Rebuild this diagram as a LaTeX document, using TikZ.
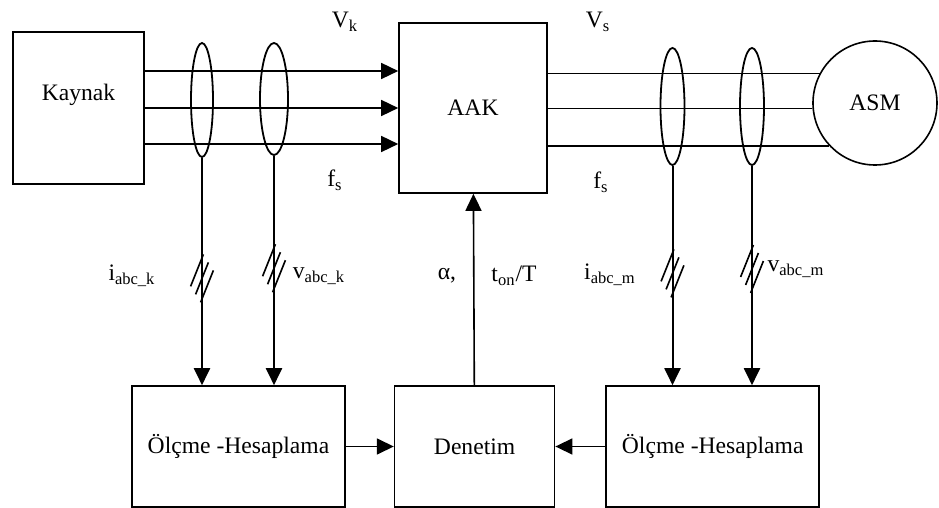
\documentclass[tikz,border=0pt]{standalone}
\usepackage{fontspec}
\setmainfont{Liberation Serif}
\usetikzlibrary{arrows.meta,positioning,calc,shapes.geometric}
\newcommand{\busmark}[1]{%
  \foreach \dx/\dy in {-2.5/4,0/0,2.5/-4}
    \draw[line width=0.8pt] ([shift={(\dx pt,\dy pt)}]#1) +(-3.2pt,-8pt) -- +(3.2pt,8pt);}

\begin{document}
\begin{tikzpicture}[x=0.5pt,y=-0.5pt,font=\fontsize{11.8}{14}\selectfont,
  box/.style={draw,line width=0.8pt,inner sep=0pt},
  ct/.style={draw,ellipse,line width=0.9pt,inner sep=0pt},
  arr/.style={-{Triangle[length=8.5pt,width=8pt]},line width=0.8pt},
  lbl/.style={inner sep=0pt}]
  \useasboundingbox (0,0) rectangle (939,508);
  \node[box,minimum width=65.5pt,minimum height=76pt,label={[yshift=6.5pt]center:Kaynak}] (kaynak) at (78.5,108) {};
  \node[box,minimum width=74pt,minimum height=85pt] (aak) at (473,108) {AAK};
  \node[box,circle,minimum size=62pt] (asm) at (875,103) {ASM};
  \node[box,minimum width=106.5pt,minimum height=60.5pt] (olc1) at (238.5,446.5) {Ölçme -Hesaplama};
  \node[box,minimum width=80pt,minimum height=60.5pt,right=24pt of olc1] (den) {Denetim};
  \node[box,minimum width=106.5pt,minimum height=60.5pt,right=25pt of den] (olc2) {Ölçme -Hesaplama};
  \foreach \dy in {18.5,0,-18}
    \draw[arr,line width=0.75pt] ([yshift=\dy pt]kaynak.east) -- ([yshift=\dy pt]aak.west);
  \foreach \a in {152,185,223}
    \draw[line width=0.75pt] (aak.east |- asm.\a) -- (asm.\a);
  \node[ct,minimum width=11pt,minimum height=57pt] (ct1) at (202,100) {};
  \node[ct,minimum width=14pt,minimum height=56pt] (ct2) at (274,99) {};
  \node[ct,minimum width=12pt,minimum height=58.5pt] (ct3) at (672.5,106.5) {};
  \node[ct,minimum width=12pt,minimum height=58.5pt] (ct4) at (752,106.5) {};
  \foreach \c/\b/\f in {ct1/olc1/0.53,ct2/olc1/0.49,ct3/olc2/0.49,ct4/olc2/0.47}{
    \draw[arr,line width=1pt] (\c.south) -- (\c.south |- \b.north);
    \coordinate (m) at ($(\c.south)!\f!(\c.south |- \b.north)$);
    \busmark{m}}
  \draw[arr] (den) -- (aak);
  \draw[arr] (olc1) -- (den);
  \draw[arr] (olc2) -- (den);
  \node[lbl] (vk) at (345,22) {V\textsubscript{k}};
  \node[lbl] (fsk) at (335,180) {f\textsubscript{s}};
  \node[lbl] (vs) at (598,22) {V\textsubscript{s}};
  \node[lbl] (fsm) at (601,182) {f\textsubscript{s}};
  \node[lbl] (ik) at (132,276) {i\textsubscript{abc\_k}};
  \node[lbl] (vabck) at (319,276) {v\textsubscript{abc\_k}};
  \node[lbl] (alfa) at (447,276) {α,};
  \node[lbl] (ton) at (514,276) {t\textsubscript{on}/T};
  \node[lbl] (im) at (610,275) {i\textsubscript{abc\_m}};
  \node[lbl] (vabcm) at (796,269) {v\textsubscript{abc\_m}};
\end{tikzpicture}
\end{document}
